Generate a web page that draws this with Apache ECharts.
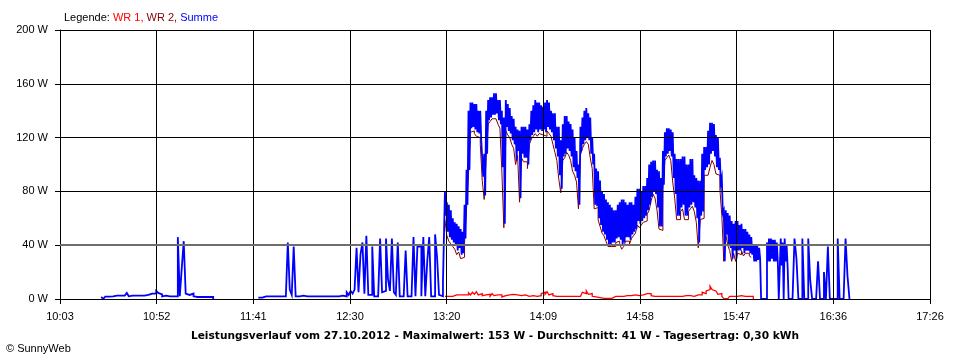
<!DOCTYPE html>
<html><head><meta charset="utf-8">
<script src="https://cdn.jsdelivr.net/npm/echarts@6/dist/echarts.min.js"></script>
<style>html,body{margin:0;padding:0;background:#fff}#c{width:960px;height:360px}</style>
</head><body><div id="c"></div>
<script>
const seriesNames = ['WR 1', 'WR 2', 'Summe'];
const tickLabels = ['10:03','10:52','11:41','12:30','13:20','14:09','14:58','15:47','16:36','17:26'];
const yTickValues = [0, 40, 80, 120, 160, 200];
const spanMinutes = 443;            // 10:03 .. 17:26
const titleText = 'Leistungsverlauf vom 27.10.2012 - Maximalwert: 153 W - Durchschnitt: 41 W - Tagesertrag: 0,30 kWh';
const footerText = '\u00A9 SunnyWeb';

// All x positions are minutes after 10:03.
// Summe, sparse morning part: one reading per minute
const summeEarlyStart = 21;
const summeEarly = [
 1.5,0,1.7,1.7,1.7,2,2.5,2.5,2,2.5,
 3,2.5,2.5,4.5,2,2.5,3,2.5,3,2.5,
 3,2.5,3.5,3,3.5,4,5,4,6,4.5,
 3.5,2,2.5,2,2,2.5,2,2,2,46,
 2,23,43,4,3,2,4,2,1.5,1.5,
 1.5,1.5,1.5,1.5,1.5,1.5,1.5,0,null,null,
 null,null,null,null,null,null,null,null,null,null,
 null,null,null,null,null,null,null,null,null,null,
 1,1,2,2,2,2,2,2,2,2,
 2,2,2,2,2,42,7,3,39,2,
 2,2,2.5,2,2,2,2,1.5,2,2,
 2,2,2,2.5,2,2,2,2,2,2,
 2,2,2.5,2,2,5,3,6,4,7,
 38,5,33,42,4,47,3,3,39,2,
 2,3,45,5,6,45,15,6,45,5,
 3,42,2,2,2,36,2,2,2,46,
 2,39,39,2,46,2,28,46,2,2,
 48,31,3,2,12
];

// Summe, noisy main part: per minute the highest and lowest reading (two readings per minute)
const summeBandStart = 196;
const summeUpper = [
 80,72,70,66,60,57,56,54,52,50,
 70,96,140,146,146,145,145,140,140,118,
 108,140,148,150,150,153,153,148,148,140,
 135,148,145,142,136,134,128,126,125,128,
 128,128,126,130,140,144,148,146,146,144,
 143,146,148,146,140,138,138,128,128,118,
 130,136,136,132,130,126,120,110,100,128,
 135,140,142,138,135,120,108,97,95,88,
 80,78,74,72,70,68,66,66,70,72,
 74,74,72,70,72,72,70,76,82,82,
 80,84,84,90,100,102,103,103,96,95,
 90,110,124,127,127,126,124,108,104,104,
 104,106,106,100,100,104,104,92,90,88,
 88,108,113,113,125,131,131,130,122,120,
 105,90,66,66,64,62,58,56,58,58,
 55,56,52,52,50,48,46,40,40,40,
 38,0,0,0,42,45,45,44,44,42,
 0,45,42,45,40
];
const summeLower = [
 62,50,46,44,42,40,36,38,33,34,
 45,70,96,127,128,126,124,123,118,91,
 77,108,133,135,137,137,138,133,130,98,
 56,128,125,123,118,115,103,110,75,108,
 105,105,100,118,122,124,126,124,126,125,
 126,124,128,126,124,118,112,106,92,82,
 106,108,112,110,106,98,95,90,70,110,
 115,118,120,118,108,100,70,69,60,55,
 50,48,44,40,40,42,42,45,46,44,
 40,42,46,46,44,48,50,52,58,56,
 58,60,62,66,70,76,80,78,68,54,
 54,85,106,108,110,106,90,78,62,62,
 68,70,62,62,68,70,72,68,60,42,
 62,65,96,98,100,108,110,106,98,96,
 86,64,28,48,40,38,30,36,30,36,
 36,38,34,36,36,34,33,28,28,29,
 30,0,0,0,28,28,30,28,28,28,
 0,25,0,28,24
];

// Summe, intermittent afternoon part: one reading per minute
const summeLateStart = 371;
const summeLate = [
 0,0,0,45,30,0,0,45,0,0,
 45,14,0,0,0,28,0,0,20,0,
 39,0,0,0,0,45,0,0,0,45,
 17,0
];

const wr1Start = 196;
const wr1 = [
 2,2,2.5,2,2.5,3,2.5,3,2,3,
 4,3,4.5,3,5,3.5,5.5,3,4,2.5,
 3,2,3.5,2,4,2.5,3,2,3,1.5,
 2.5,2,3,2,3.5,2.5,3,2,2.5,2,
 3,2.5,2,3,2.5,3,2,3,2.5,4,
 5,3.5,5.5,3,4,2.5,2,1.5,2,1.5,
 2,2.5,2,1.5,2,2.5,2,1.5,2,3,
 5,4,6,3.5,4,2,1.5,0.5,1,0.5,
 0.5,1,0.5,0.3,0.5,1.5,2,2.5,2,2.5,
 2,3,2.5,2,2.5,2,3,2,2.5,2,
 3,2.5,4,3,4,2.5,2,2.5,2,1.5,
 2,2.5,2,2.5,2,3,2,2.5,2,2.5,
 2,1.5,2.5,2,2.5,2,2,2.5,3,4,
 3,5,4,6,7,9.5,7,6,5,3.5,
 4,2,0.3,0.3,0.3,2,2,1.5,2,2,
 2.5,2,2,2,2,2,2,0
];

const wr2Start = 196;
const wr2 = [
 59,47,43,41,39,37,33,35,30,31,
 42,67,93,124,125,123,121,120,115,88,
 74,105,130,132,134,134,135,130,127,95,
 53,125,122,120,115,112,100,107,72,105,
 102,102,97,115,119,121,123,121,123,122,
 123,121,125,123,121,115,109,103,89,79,
 103,105,109,107,103,95,92,87,67,107,
 112,115,117,115,105,97,67,68,59,54,
 49,47,43,39,39,39,39,42,43,41,
 37,39,43,43,41,45,47,49,55,53,
 55,57,58,63,66,73,78,75,66,52,
 51,82,103,105,107,103,87,75,59,59,
 65,67,59,59,65,67,69,65,57,38,
 59,60,92,92,93,98,103,100,93,92,
 82,62,28,48,40,36,28,34,28,34,
 33,36,32,34,34,32,31
];

const colors = { wr1: '#FF0000', wr2: '#800000', summe: '#0000FF' };
const FONT = 'Liberation Sans, Arial, sans-serif';

function pairs(start, arr) { return arr.map((v, i) => [start + i, v]); }

// each reading holds until the next one (staircase trace, like the original plot)
function staircase(points) {
  const out = [];
  points.forEach((p, i) => {
    const q = points[i - 1];
    if (q && q[1] != null && p[1] != null) out.push([p[0], q[1]]);
    out.push(p);
  });
  return out;
}

const summeData = [].concat(
  pairs(summeEarlyStart, summeEarly),
  ...summeUpper.map((u, i) => [[summeBandStart + i, u], [summeBandStart + i + 0.5, summeLower[i]]]),
  pairs(summeLateStart, summeLate)
);

const chart = echarts.init(document.getElementById('c'), null, { renderer: 'canvas' });
const step = spanMinutes / (tickLabels.length - 1);

function lineSeries(name, data, color, z, width) {
  return {
    name: name, type: 'line', data: staircase(data),
    showSymbol: false, symbol: 'none', connectNulls: false, z: z, sampling: null,
    lineStyle: { color: color, width: width, join: 'miter', cap: 'butt' }, itemStyle: { color: color },
    emphasis: { disabled: true }, silent: true, animation: false
  };
}

const legendRich = {};
[['k', '#000'], ['a', colors.wr1], ['b', colors.wr2], ['c', colors.summe]].forEach(([k, c]) => {
  legendRich[k] = { color: c, fontSize: 11, fontWeight: 'normal', fontFamily: FONT };
});

chart.setOption({
  animation: false,
  backgroundColor: '#ffffff',
  title: [{
    left: 59, top: 7,
    text: '{k|Legende: }{a|' + seriesNames[0] + ', }{b|' + seriesNames[1] + ', }{c|' + seriesNames[2] + '}',
    textStyle: { fontWeight: 'normal', fontSize: 11, fontFamily: FONT, rich: legendRich }
  }],
  graphic: [
    { type: 'text', x: 495, y: 336, style: { text: titleText, font: 'bold 10.6px DejaVu Sans, sans-serif', fill: '#000', align: 'center', verticalAlign: 'middle' } },
    { type: 'text', x: 6, y: 349, style: { text: footerText, font: '11px ' + FONT, fill: '#000', align: 'left', verticalAlign: 'middle' } }
  ],
  grid: { left: 60, right: 30, top: 30, bottom: 61, containLabel: false, outerBoundsMode: 'none' },
  xAxis: {
    type: 'value', min: 0, max: spanMinutes, interval: step, z: 10,
    axisLine: { show: true, lineStyle: { color: '#000', width: 1 } },
    axisTick: { show: true, length: 5, lineStyle: { color: '#000' } },
    splitLine: { show: true, lineStyle: { color: '#000', width: 1 } },
    axisLabel: {
      color: '#000', fontSize: 11, fontFamily: FONT, margin: 12,
      formatter: v => tickLabels[Math.round(v / step)] || ''
    }
  },
  yAxis: {
    type: 'value', min: yTickValues[0], max: yTickValues[yTickValues.length - 1], interval: yTickValues[1] - yTickValues[0], z: 10,
    axisLine: { show: true, lineStyle: { color: '#000', width: 1 } },
    axisTick: { show: true, length: 5, lineStyle: { color: '#000' } },
    splitLine: { show: true, lineStyle: { color: '#000', width: 1 } },
    axisLabel: { color: '#000', fontSize: 11, fontFamily: FONT, margin: 12, formatter: '{value} W' }
  },
  series: [
    lineSeries(seriesNames[1], pairs(wr2Start, wr2), colors.wr2, 2, 1),
    lineSeries(seriesNames[2], summeData, colors.summe, 3, 1.8),
    lineSeries(seriesNames[0], pairs(wr1Start, wr1), colors.wr1, 4, 1.3),
    {
      type: 'line', data: [], z: 20, silent: true,
      markLine: {
        silent: true, symbol: 'none', z: 20, animation: false,
        label: { show: false },
        lineStyle: { color: '#6e6e6e', width: 2, type: 'solid' },
        data: [{ yAxis: yTickValues[1] }]
      }
    }
  ]
});
</script>
</body></html>
